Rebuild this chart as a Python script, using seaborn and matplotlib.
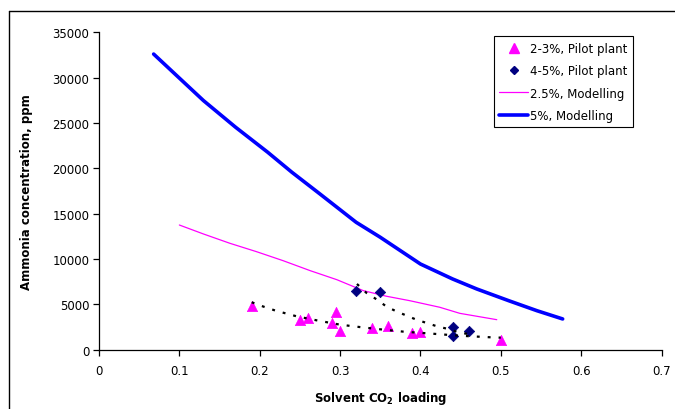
import matplotlib
matplotlib.use("Agg")
import matplotlib.pyplot as plt
from matplotlib.lines import Line2D
import seaborn as sns
import pandas as pd

# ---- data ----
tri_x = [0.19, 0.25, 0.26, 0.29, 0.295, 0.30, 0.34, 0.36, 0.39, 0.40, 0.50]
tri_y = [4800, 3300, 3500, 2900, 4150, 2100, 2400, 2650, 1850, 1950, 1100]

dia_x = [0.32, 0.35, 0.44, 0.44, 0.46]
dia_y = [6450, 6350, 2450, 1500, 2100]

model25_x = [0.10, 0.13, 0.163, 0.196, 0.229, 0.263, 0.296, 0.329, 0.358, 0.387, 0.424, 0.449, 0.495]
model25_y = [13750, 12760, 11730, 10810, 9820, 8710, 7720, 6510, 5890, 5400, 4680, 4010, 3310]

model5_x = [0.068, 0.10, 0.13, 0.17, 0.21, 0.24, 0.275, 0.32, 0.35, 0.40, 0.44, 0.47, 0.51, 0.545, 0.577]
model5_y = [32600, 29950, 27470, 24530, 21770, 19570, 17170, 14050, 12400, 9450, 7800, 6700, 5400, 4300, 3390]

trend_tri_x = [0.19, 0.205, 0.22, 0.246, 0.273, 0.30, 0.327, 0.354, 0.379, 0.408, 0.449, 0.487, 0.50]
trend_tri_y = [5230, 4740, 4300, 3680, 3200, 2760, 2470, 2210, 1990, 1810, 1540, 1370, 1330]

trend_dia_x = [0.321, 0.333, 0.346, 0.358, 0.37, 0.383, 0.395, 0.409, 0.422, 0.435, 0.447, 0.46]
trend_dia_y = [7250, 6250, 5520, 4740, 4230, 3750, 3310, 2910, 2540, 2280, 1920, 1720]

labels = ["2-3%, Pilot plant", "4-5%, Pilot plant", "2.5%, Modelling", "5%, Modelling"]
x_ticks = [0, 0.1, 0.2, 0.3, 0.4, 0.5, 0.6, 0.7]
y_ticks = [0, 5000, 10000, 15000, 20000, 25000, 30000, 35000]

# ---- style ----
sns.set_style("white")
plt.rcParams["font.family"] = ["DejaVu Sans"]
plt.rcParams["mathtext.fontset"] = "dejavusans"
for k in ["text.color", "axes.labelcolor", "xtick.color", "ytick.color", "axes.edgecolor"]:
    plt.rcParams[k] = "black"

MAG = "#FF00FF"
NAVY = "#000080"
BLUE = "#0000FF"
FS = 8.5

fig = plt.figure(figsize=(6.75, 4.10), dpi=100)
ax = fig.add_axes([99 / 675, 1 - 350.7 / 410, 562.5 / 675, 317.4 / 410])

df_m25 = pd.DataFrame({"x": model25_x, "y": model25_y})
df_m5 = pd.DataFrame({"x": model5_x, "y": model5_y})
df_tri = pd.DataFrame({"x": tri_x, "y": tri_y})
df_dia = pd.DataFrame({"x": dia_x, "y": dia_y})
df_ttri = pd.DataFrame({"x": trend_tri_x, "y": trend_tri_y})
df_tdia = pd.DataFrame({"x": trend_dia_x, "y": trend_dia_y})

sns.lineplot(data=df_m25, x="x", y="y", ax=ax, color=MAG, lw=0.9, sort=False, estimator=None)
sns.lineplot(data=df_m5, x="x", y="y", ax=ax, color=BLUE, lw=2.6, sort=False, estimator=None)
sns.scatterplot(data=df_tri, x="x", y="y", ax=ax, color=MAG, marker="^", s=55, edgecolor=MAG, linewidth=0.5, zorder=3)
sns.scatterplot(data=df_dia, x="x", y="y", ax=ax, color=NAVY, marker="D", s=28, edgecolor=NAVY, linewidth=0.5, zorder=3)
sns.lineplot(data=df_ttri, x="x", y="y", ax=ax, color="black", lw=1.6, linestyle=(0, (1.3, 3.6)), sort=False, estimator=None, zorder=4)
sns.lineplot(data=df_tdia, x="x", y="y", ax=ax, color="black", lw=1.6, linestyle=(0, (1.3, 3.6)), sort=False, estimator=None, zorder=4)

ax.set_xlim(0, 0.7)
ax.set_ylim(0, 35000)
ax.set_xticks(x_ticks)
ax.set_xticklabels([("%g" % t) for t in x_ticks])
ax.set_yticks(y_ticks)
ax.set_yticklabels([str(t) for t in y_ticks])

for s in ["top", "right"]:
    ax.spines[s].set_visible(False)
for s in ["left", "bottom"]:
    ax.spines[s].set_color("black")
    ax.spines[s].set_linewidth(0.9)
ax.tick_params(axis="both", direction="out", length=4, width=0.9, colors="black",
               labelsize=FS, pad=3, left=True, bottom=True)
ax.tick_params(axis="x", pad=6)

ax.set_xlabel(r"Solvent CO$_\mathbf{2}$ loading", fontsize=FS, fontweight="bold", labelpad=9, color="black")
ax.set_ylabel("Ammonia concentration, ppm", fontsize=FS, fontweight="bold", labelpad=14, color="black")

handles = [
    Line2D([], [], ls="none", marker="^", color=MAG, markersize=6.5),
    Line2D([], [], ls="none", marker="D", color=NAVY, markersize=4.5),
    Line2D([], [], color=MAG, lw=0.9),
    Line2D([], [], color=BLUE, lw=2.6),
]
leg = ax.legend(handles, labels, loc="upper right", bbox_to_anchor=(0.949, 0.987),
                borderaxespad=0, fontsize=FS, frameon=True, fancybox=False,
                handlelength=2.4, handletextpad=0.2, labelspacing=0.8,
                borderpad=0.45, framealpha=1)
leg.get_frame().set_edgecolor("black")
leg.get_frame().set_linewidth(0.8)
for t in leg.get_texts():
    t.set_color("black")

# outer chart-area border (top and left visible in the crop)
fig.add_artist(Line2D([9 / 675, 9 / 675], [0, 1 - 12 / 410], transform=fig.transFigure, color="black", lw=1))
fig.add_artist(Line2D([9 / 675, 1], [1 - 12 / 410, 1 - 12 / 410], transform=fig.transFigure, color="black", lw=1))

fig.savefig("out.png", dpi=100)
